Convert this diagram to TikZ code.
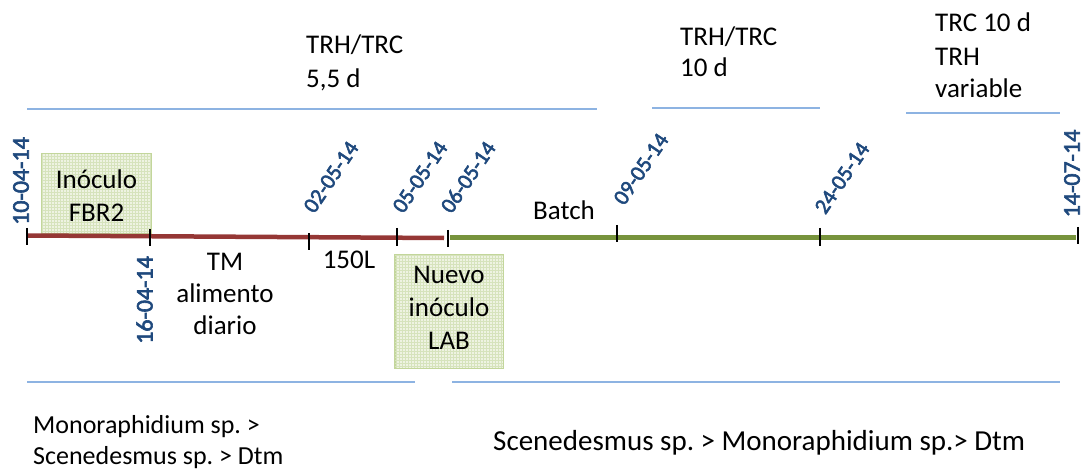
\documentclass[tikz,border=0pt]{standalone}
\usepackage{fontspec}
\setmainfont{Carlito}
\newfontfamily\datefont{Carlito}[FakeBold=2.5]
\frenchspacing
\definecolor{redline}{HTML}{953735}
\definecolor{greenline}{HTML}{77933C}
\definecolor{blueline}{HTML}{8DB3E2}
\definecolor{datecol}{HTML}{1F497D}
\definecolor{boxfill}{HTML}{EEF3E2}
\definecolor{boxgrid}{HTML}{D6E3BC}
\definecolor{boxborder}{HTML}{C3D69B}
\begin{document}
\begin{tikzpicture}[x=1pt,y=-1pt,
  txt/.style={font=\fontsize{27}{32}\selectfont, inner sep=0pt, anchor=base west},
  ctxt/.style={font=\fontsize{27}{32}\selectfont, inner sep=0pt, anchor=base},
  datelbl/.style={font=\datefont\fontsize{22}{24}\selectfont, text=datecol, inner sep=0pt},
  vdatelbl/.style={datelbl, font=\datefont\fontsize{24}{26}\selectfont, rotate=90},
  tickmark/.style={line width=2pt, black},
  bline/.style={line width=1.5pt, blueline},
  gbox/.style={draw=boxborder, fill=boxfill, line width=1pt, inner sep=0pt},
  redseg/.style={line width=4.5pt, redline},
  greenseg/.style={line width=4.5pt, greenline}]
\useasboundingbox (0,0) rectangle (1084,473);

% top blue lines
\coordinate (ta1) at (27,109);  \coordinate (ta2) at (597,109);
\coordinate (tb1) at (652,108); \coordinate (tb2) at (820,108);
\coordinate (tc1) at (906,113); \coordinate (tc2) at (1060,113);
\draw[bline] (ta1) -- (ta2);
\draw[bline] (tb1) -- (tb2);
\draw[bline] (tc1) -- (tc2);
% bottom blue lines
\coordinate (ba1) at (27,382);  \coordinate (ba2) at (415,382);
\coordinate (bb1) at (452,382); \coordinate (bb2) at (1060,382);
\draw[bline] (ba1) -- (ba2);
\draw[bline] (bb1) -- (bb2);

% boxes
\node[gbox, minimum width=109pt, minimum height=79pt] (ino) at (96.5,193.5) {};
\node[gbox, minimum width=108pt, minimum height=113pt] (nue) at (449,311.5) {};
\foreach \b in {ino,nue}{
  \begin{scope}
    \clip (\b.south west) rectangle (\b.north east);
    \draw[step=3pt, boxgrid, line width=0.5pt] (\b.south west) grid (\b.north east);
  \end{scope}
  \draw[boxborder, line width=1pt] (\b.south west) rectangle (\b.north east);
}

% timeline
\coordinate (r1) at (27,235.5);  \coordinate (r2) at (444,238);
\coordinate (g1) at (450,237.5); \coordinate (g2) at (1076,237.5);
\draw[redseg] (r1) -- (r2);
\draw[greenseg] (g1) -- (g2);

% ticks
\draw[tickmark] (27,228) coordinate (k1a) -- (27,245) coordinate (k1b);
\draw[tickmark] (150,229) coordinate (k2a) -- (150,246) coordinate (k2b);
\draw[tickmark] (309,233) coordinate (k3a) -- (309,250) coordinate (k3b);
\draw[tickmark] (397,228) coordinate (k4a) -- (397,246) coordinate (k4b);
\draw[tickmark] (448,230) coordinate (k5a) -- (448,247) coordinate (k5b);
\draw[tickmark] (617,225) coordinate (k6a) -- (617,242) coordinate (k6b);
\draw[tickmark] (820,228) coordinate (k7a) -- (820,246) coordinate (k7b);
\draw[tickmark] (1078,227) coordinate (k8a) -- (1078,244) coordinate (k8b);

% dates
\node[vdatelbl] (d1) at (21,181) {10-04-14};
\node[vdatelbl] (d2) at (144.5,300) {16-04-14};
\node[datelbl, rotate=56] (d3) at (331,177) {02-05-14};
\node[datelbl, rotate=56] (d4) at (420,177) {05-05-14};
\node[datelbl, rotate=56] (d5) at (468,177) {06-05-14};
\node[datelbl, rotate=56] (d6) at (641,169) {09-05-14};
\node[datelbl, rotate=56] (d7) at (842,178) {24-05-14};
\node[vdatelbl] (d8) at (1072,173.5) {14-07-14};

% top texts
\node[txt] (p1a) at (306,54) {TRH/TRC};
\node[txt] (p1b) at (306,88) {5,5 d};
\node[txt] (p2a) at (680,46) {TRH/TRC};
\node[txt] (p2b) at (680,77) {10 d};
\node[txt] (p3a) at (935,32) {TRC 10 d};
\node[txt] (p3b) at (935,66) {TRH};
\node[txt] (p3c) at (935,98) {variable};

% box texts
\node[ctxt] (i1) at (96.5,189) {Inóculo};
\node[ctxt] (i2) at (96.5,222) {FBR2};
\node[ctxt] (n1) at (449,283) {Nuevo};
\node[ctxt] (n2) at (449,316) {inóculo};
\node[ctxt] (n3) at (449,349) {LAB};

% middle texts
\node[ctxt] (m1) at (225,270) {TM};
\node[ctxt] (m2) at (225,302) {alimento};
\node[ctxt] (m3) at (225,334) {diario};
\node[ctxt] (l150) at (349,268) {150L};
\node[ctxt] (bat) at (564,220) {Batch};

% bottom texts
\node[txt, font=\fontsize{26}{32}\selectfont] (s1a) at (33,433) {Monoraphidium sp. >};
\node[txt, font=\fontsize{26}{32}\selectfont] (s1b) at (33,464) {Scenedesmus sp. > Dtm};
\node[txt, font=\fontsize{29}{34}\selectfont] (s2) at (493,450) {Scenedesmus sp. > Monoraphidium sp.> Dtm};
\end{tikzpicture}
\end{document}
